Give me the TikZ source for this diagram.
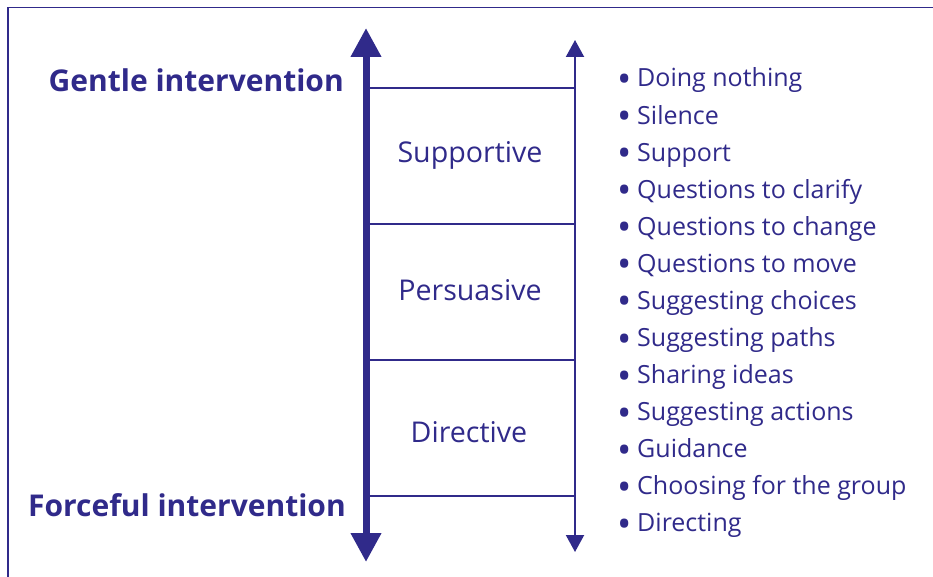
\documentclass[tikz,border=0pt]{standalone}
\usepackage{fontspec}
\setmainfont{Open Sans}
\usetikzlibrary{arrows.meta}
\definecolor{ink}{RGB}{48,42,138}
\newcommand{\bul}{\makebox[20pt][l]{\raisebox{-5.5pt}{\fontsize{38}{38}\selectfont•}}}
\begin{document}
\begin{tikzpicture}[x=1pt,y=-1pt,
  every node/.style={text=ink, inner sep=0pt},
  big/.style={font=\fontsize{30}{32}\selectfont\bfseries, anchor=base east},
  mid/.style={font=\fontsize{28.6}{30}\selectfont, anchor=base},
  item/.style={font=\fontsize{25}{28}\selectfont, anchor=base west},
  rung/.style={draw=ink, line width=1.5pt}]
\useasboundingbox (0,0) rectangle (933,577);
\draw[ink, line width=1.5pt] (8,600) -- (8,7.5) -- (940,7.5);
% arrows
\coordinate (bt) at (366,28);
\coordinate (bb) at (366,562);
\coordinate (tt) at (575,40);
\coordinate (tb) at (575,552);
\draw[ink, line width=7pt, {Triangle[width=29pt,length=29pt]}-{Triangle[width=29pt,length=29pt]}] (bt) -- (bb);
\draw[ink, line width=2pt, {Triangle[width=18pt,length=17pt]}-{Triangle[width=18pt,length=17pt]}] (tt) -- (tb);
% rungs
\foreach \y/\n in {88/a,224/b,360/c,496/d}{
  \coordinate (l\n) at (366,\y);
  \coordinate (r\n) at (575,\y);
  \draw[rung] (l\n) -- (r\n);
}
\node[mid] (sup) at (470,163) {Supportive};
\node[mid] (per) at (470,300) {Persuasive};
\node[mid] (dir) at (469,442) {Directive};
\node[big] (gen) at (344,92) {Gentle intervention};
\node[big] (for) at (346,516) {Forceful intervention};
\foreach \t [count=\i] in {Doing nothing,Silence,Support,Questions to clarify,Questions to change,Questions to move,Suggesting choices,Suggesting paths,Sharing ideas,Suggesting actions,Guidance,Choosing for the group,Directing}{
  \node[item] (i\i) at (617,{87+37.08*(\i-1)}) {\bul\t};
}
\end{tikzpicture}
\end{document}
